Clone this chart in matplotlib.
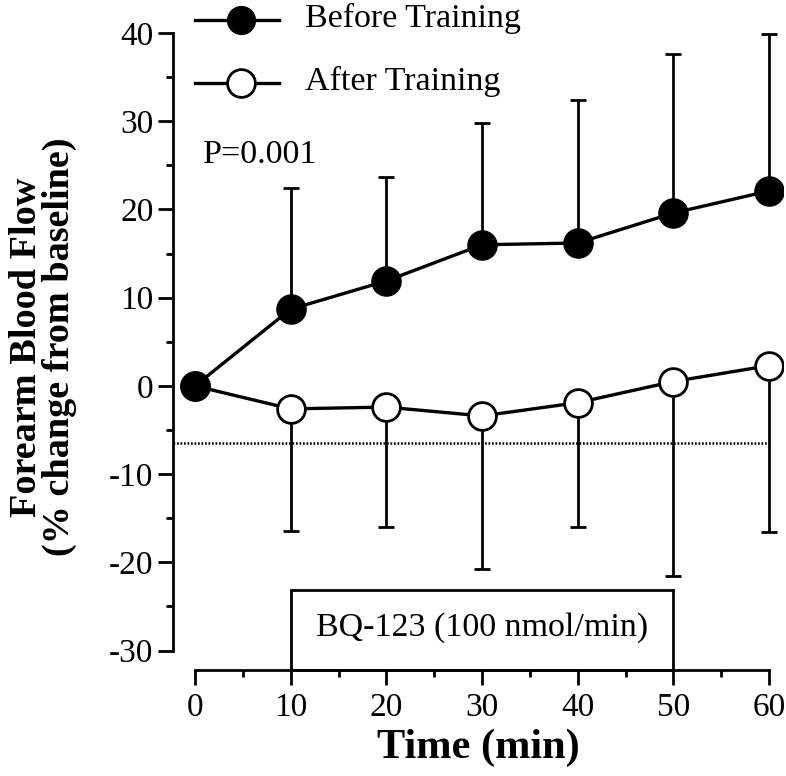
import matplotlib
matplotlib.use("Agg")
import matplotlib.pyplot as plt
from matplotlib.ticker import MultipleLocator
from matplotlib.patches import Rectangle

time = [0, 10, 20, 30, 40, 50, 60]
before_mean = [0, 8.7, 11.9, 16.0, 16.2, 19.6, 22.1]
before_err = [0, 13.7, 11.8, 13.8, 16.2, 18.0, 17.8]
after_mean = [0, -2.6, -2.4, -3.4, -1.9, 0.5, 2.3]
after_err = [0, 13.8, 13.6, 17.3, 14.1, 22.1, 18.9]
baseline_level = -6.5
bq_start, bq_end, bq_top = 10, 50, -23.1

plt.rcParams['font.family'] = ['Liberation Serif', 'DejaVu Serif']
plt.rcParams['axes.unicode_minus'] = False

fig = plt.figure(figsize=(7.86, 7.76), dpi=100)
ax = fig.add_axes([0.2201, 0.1366, 0.7766, 0.8322])
xmin, xmax = -2.3, 61.5
ymin, ymax = -32.2, 41
ax.set_xlim(xmin, xmax)
ax.set_ylim(ymin, ymax)

lw = 2.0
ms = 20
# BQ-123 box
ax.add_patch(Rectangle((bq_start, ymin), bq_end - bq_start, bq_top - ymin,
                       fill=False, edgecolor='black', linewidth=lw, zorder=1, clip_on=False))
ax.text((bq_start + bq_end) / 2, (bq_top + ymin) / 2 + 0.2, 'BQ-123 (100 nmol/min)',
        ha='center', va='center', fontsize=24.5)

# dotted line
ax.plot([xmin, 60], [baseline_level, baseline_level], linestyle=(0, (0.7, 0.7)),
        color='black', linewidth=1.8, zorder=1)

# error bars (one-sided)
zeros = [0] * len(time)
ax.errorbar(time, before_mean, yerr=[zeros, before_err], fmt='none', ecolor='black',
            elinewidth=lw, capsize=5.6, capthick=lw, zorder=2)
ax.errorbar(time, after_mean, yerr=[after_err, zeros], fmt='none', ecolor='black',
            elinewidth=lw, capsize=5.6, capthick=lw, zorder=2)

ax.plot(time, after_mean, '-o', color='black', markerfacecolor='white',
        markeredgecolor='black', markersize=ms, markeredgewidth=2, linewidth=2.4, zorder=3)
ax.plot(time, before_mean, '-o', color='black', markerfacecolor='black',
        markeredgecolor='black', markersize=ms, markeredgewidth=2, linewidth=2.4, zorder=4)

# legend (manual)
leg_y1, leg_y2 = 41.5, 34.3
ax.plot([0, 8.8], [leg_y1, leg_y1], color='black', linewidth=2.4, clip_on=False, zorder=5)
ax.plot([4.8], [leg_y1], 'o', color='black', markersize=ms, clip_on=False, zorder=6)
ax.text(11.5, leg_y1 + 0.2, 'Before Training', fontsize=24.5, va='center', ha='left')
ax.plot([0, 8.8], [leg_y2, leg_y2], color='black', linewidth=2.4, clip_on=False, zorder=5)
ax.plot([4.8], [leg_y2], 'o', markerfacecolor='white', markeredgecolor='black',
        markeredgewidth=2, markersize=ms, clip_on=False, zorder=6)
ax.text(11.5, leg_y2 + 0.2, 'After Training', fontsize=24.5, va='center', ha='left')

ax.text(0.8, 26.2, 'P=0.001', fontsize=24.5, va='center', ha='left')

# spines & ticks
for s in ['top', 'right']:
    ax.spines[s].set_visible(False)
ax.spines['left'].set_bounds(-30, 40)
ax.spines['bottom'].set_bounds(0, 60)
ax.spines['left'].set_linewidth(lw)
ax.spines['bottom'].set_linewidth(lw)
ax.set_xticks(time)
ax.set_yticks([-30, -20, -10, 0, 10, 20, 30, 40])
ax.xaxis.set_minor_locator(MultipleLocator(5))
ax.yaxis.set_minor_locator(MultipleLocator(5))
ax.tick_params(which='major', direction='out', length=11, width=lw, labelsize=24, pad=3)
ax.tick_params(axis='x', which='major', pad=5)
ax.tick_params(which='minor', direction='out', length=5, width=lw)

ax.set_xlabel('Time (min)', fontsize=30.5, fontweight='bold', labelpad=4)
ax.set_ylabel('Forearm Blood Flow\n(% change from baseline)', fontsize=27.5,
              fontweight='bold', linespacing=0.92)
ax.yaxis.set_label_coords(-0.157, 0.5)

fig.savefig('out.png', dpi=100)
